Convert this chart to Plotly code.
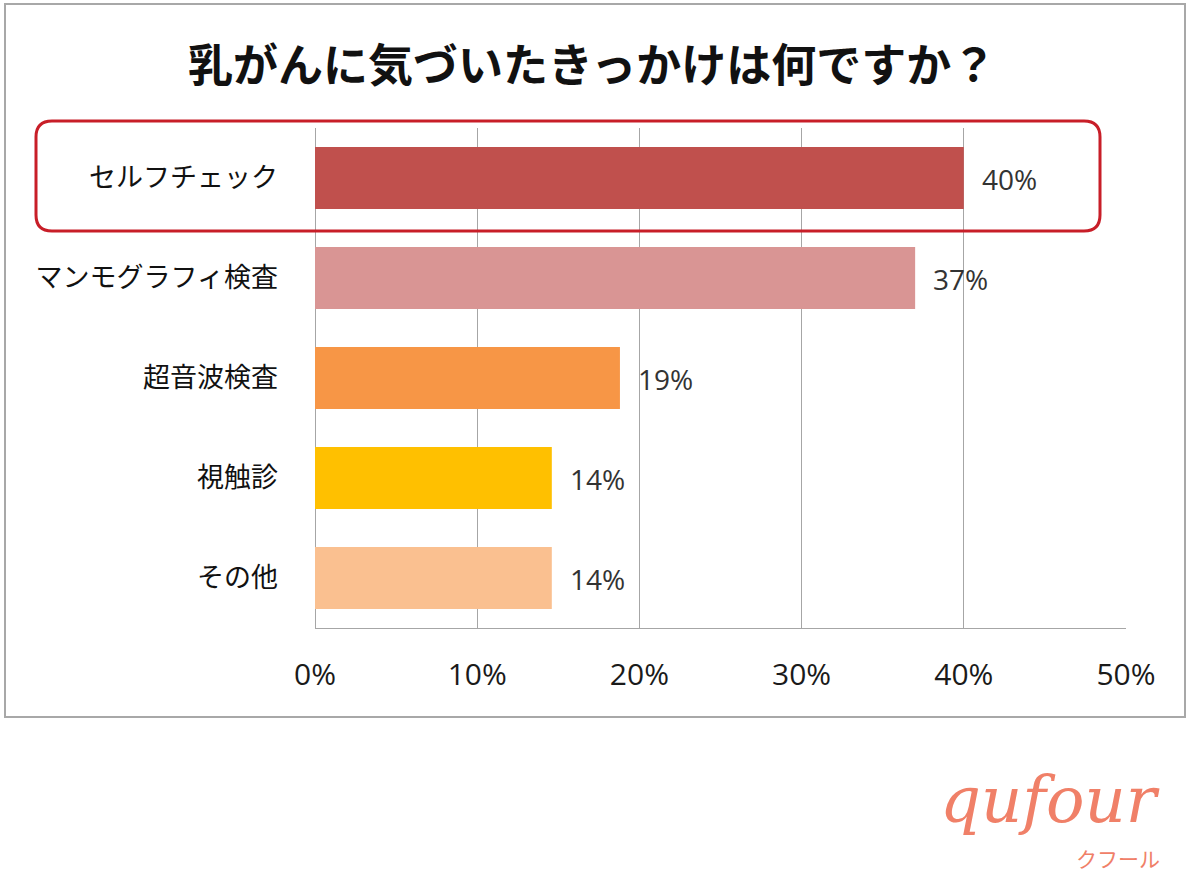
import plotly.graph_objects as go

# ---- data ----
categories = ["セルフチェック", "マンモグラフィ検査", "超音波検査", "視触診", "その他"]
values = [40.0, 37.0, 18.8, 14.6, 14.6]
value_labels = ["40%", "37%", "19%", "14%", "14%"]
bar_colors = ["#C0504D", "#D99594", "#F79646", "#FFC000", "#FAC090"]
x_ticks = [0, 10, 20, 30, 40, 50]
x_tick_labels = ["0%", "10%", "20%", "30%", "40%", "50%"]
title_text = "乳がんに気づいたきっかけは何ですか？"

W, H = 1200, 888
L, R, T, B = 315, 1126, 128, 628  # plot area in pixels

def px(x):
    return (x - L) / (R - L)

def py(y):
    return (B - y) / (B - T)

FONT = "Noto Sans CJK JP"
NUMFONT = "Open Sans, " + FONT

fig = go.Figure(go.Bar(
    x=values, y=categories, orientation="h",
    marker=dict(color=bar_colors, line=dict(width=0)),
    width=0.62, hoverinfo="skip",
))

for v, c, t in zip(values, categories, value_labels):
    fig.add_annotation(
        x=v, y=c, xref="x", yref="y", text=t, showarrow=False,
        xanchor="left", yanchor="middle", xshift=16, yshift=-1,
        font=dict(family=NUMFONT, size=28, color="#333333"),
    )

fig.update_layout(
    width=W, height=H,
    margin=dict(l=L, r=W - R, t=T, b=H - B),
    paper_bgcolor="white", plot_bgcolor="white",
    showlegend=False,
)

fig.update_xaxes(
    range=[0, 50], tickvals=x_ticks, ticktext=x_tick_labels,
    showgrid=True, gridcolor="#A6A6A6", gridwidth=1,
    zeroline=True, zerolinecolor="#A6A6A6", zerolinewidth=1,
    showline=True, linecolor="#A6A6A6", linewidth=1, mirror=False,
    ticks="", ticklabelstandoff=20,
    tickfont=dict(family=NUMFONT, size=30, color="#1a1a1a"),
    fixedrange=True,
)
fig.update_yaxes(
    autorange="reversed", showgrid=False, ticks="",
    ticklabelstandoff=36,
    tickfont=dict(family=FONT, size=27, color="#111111"),
    showline=False, fixedrange=True,
)

# title
fig.add_annotation(
    text="<b>" + title_text + "</b>", xref="paper", yref="paper",
    x=px(592), y=py(62), xanchor="center", yanchor="middle", showarrow=False,
    font=dict(family=FONT, size=45, color="#111111"),
)

# outer border of the chart image
fig.add_shape(type="rect", xref="paper", yref="paper",
              x0=px(5), x1=px(1185), y0=py(717), y1=py(4),
              line=dict(color="#A8A8A8", width=2), layer="below")

# rounded highlight box around first row
x0, x1, y0, y1, r = 36, 1100, 121, 231, 16
path = (
    f"M {px(x0 + r)},{py(y0)} L {px(x1 - r)},{py(y0)} "
    f"Q {px(x1)},{py(y0)} {px(x1)},{py(y0 + r)} "
    f"L {px(x1)},{py(y1 - r)} Q {px(x1)},{py(y1)} {px(x1 - r)},{py(y1)} "
    f"L {px(x0 + r)},{py(y1)} Q {px(x0)},{py(y1)} {px(x0)},{py(y1 - r)} "
    f"L {px(x0)},{py(y0 + r)} Q {px(x0)},{py(y0)} {px(x0 + r)},{py(y0)} Z"
)
fig.add_shape(type="path", xref="paper", yref="paper", path=path,
              line=dict(color="#C81E28", width=3), layer="above")

# logo
fig.add_annotation(
    text="<i>qufour</i>", xref="paper", yref="paper",
    x=px(1050), y=py(800), xanchor="center", yanchor="middle", showarrow=False,
    font=dict(family="DejaVu Serif", size=64, color="#F08068"),
)
fig.add_annotation(
    text="クフール", xref="paper", yref="paper",
    x=px(1118), y=py(858), xanchor="center", yanchor="middle", showarrow=False,
    font=dict(family=FONT, size=21, color="#F08068"),
)

fig.write_html("out.html", config={"displayModeBar": False},
               post_script="document.body.style.margin='0';")
